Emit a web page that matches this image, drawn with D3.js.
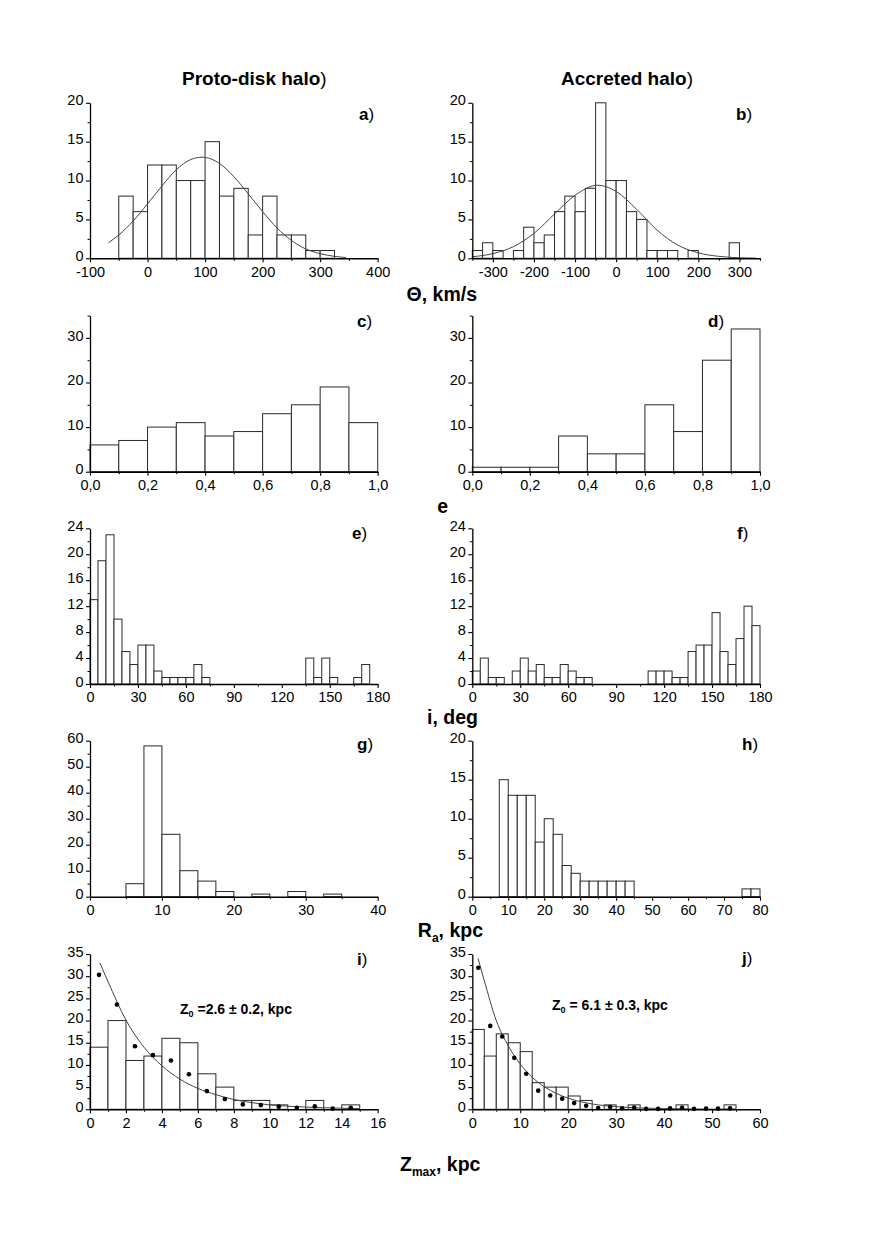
<!DOCTYPE html>
<html><head><meta charset="utf-8">
<script src="https://cdn.jsdelivr.net/npm/d3@7"></script>
<style>
body{margin:0;background:#fff}
svg{display:block}
text{font-family:"Liberation Sans",Arial,Helvetica,sans-serif;fill:#000}
</style>
</head><body>
<svg id="chart" width="872" height="1234"></svg>
<script>
// ---------------- DATA ----------------
// Theta (km/s), bins of 25
const protoThetaStart = -50;
const protoThetaCounts = [8,6,12,12,10,10,15,8,9,3,8,3,3,1,1];
const accThetaStart = -350;
const accThetaCounts = [1,2,1,0,1,4,2,3,6,8,6,9,20,10,10,6,5,1,1,1,0,1,0,0,0,2];
const thetaBinWidth = 25;
const protoThetaFit = [[-68,2.0],[-50,3.0],[-25,4.8],[0,7.0],[25,9.3],[50,11.4],[75,12.7],[95,13.0],[125,12.2],[150,10.5],[175,8.3],[200,6.0],[225,3.9],[250,2.3],[275,1.2],[300,0.6],[325,0.25],[345,0.1]];
const accThetaFit = [[-350,0.2],[-300,0.6],[-250,1.5],[-200,3.2],[-150,5.7],[-100,8.1],[-45,9.4],[0,8.6],[50,6.3],[100,3.6],[150,1.7],[200,0.7],[250,0.25],[300,0.07],[340,0.02]];

// eccentricity, bins of 0.1
const protoECounts = [6,7,10,11,8,9,13,15,19,11];
const accECounts = [1,1,1,8,4,4,15,9,25,32];
const eBinWidth = 0.1;

// inclination (deg), bins of 5
const protoICounts = [13,19,23,10,5,3,6,6,2,1,1,1,1,3,1,0,0,0,0,0,0,0,0,0,0,0,0,4,1,4,1,0,0,1,3,0];
const accICounts = [2,4,1,1,0,2,4,2,3,1,1,3,2,1,1,0,0,0,0,0,0,0,2,2,2,1,1,5,6,6,11,5,3,7,12,9];
const iBinWidth = 5;

// apocentre Ra (kpc), bins of 2.5
const protoRaCounts = [0,0,5,58,24,10,6,2,0,1,0,2,0,1];
const accRaCounts = [0,0,0,15,13,13,13,7,10,8,4,3,2,2,2,2,2,2,0,0,0,0,0,0,0,0,0,0,0,0,1,1];
const raBinWidth = 2.5;

// Zmax (kpc)
const protoZCounts = [14,20,11,12,16,15,8,5,2,2,1,0,2,0,1];
const protoZBinWidth = 1;
const accZCounts = [18,12,17,15,13,6,5,5,3,2,0,1,0,1,0,0,0,1,0,0,0,1];
const accZBinWidth = 2.5;
const protoZDots = [[0.5,30.3],[1.5,23.6],[2.5,14.2],[3.5,12.2],[4.5,11.0],[5.5,7.9],[6.5,4.1],[7.5,2.3],[8.5,1.1],[9.5,0.95],[10.5,0.6],[11.5,0.35],[12.5,0.65],[13.5,0.15],[14.5,0.35]];
const accZDots = [[1.25,31.9],[3.75,18.8],[6.25,16.4],[8.75,11.6],[11.25,8.0],[13.75,4.2],[16.25,3.1],[18.75,2.4],[21.25,1.4],[23.75,0.8],[26.25,0.3],[28.75,0.5],[31.25,0.25],[33.75,0.4],[36.25,0.1],[38.75,0.1],[41.25,0.2],[43.75,0.35],[46.25,0.1],[48.75,0.15],[51.25,0.15],[53.75,0.2]];
const protoZFit = [[0.55,33],[1,28.8],[2,20.1],[3,14],[4,9.8],[5,6.8],[6,4.7],[7,3.3],[8,2.2],[9,1.5],[10,1.0],[11,0.7],[12,0.5],[13,0.35],[14,0.25],[15,0.15]];
const accZFit = [[1.2,34],[2.5,29],[5,20],[7.5,14.3],[10,10.2],[12.5,7.2],[15,5.1],[17.5,3.6],[20,2.5],[25,1.2],[30,0.6],[35,0.3],[40,0.15],[45,0.08],[50,0.04],[55,0.02]];

// tick labels
const thetaTicksA = [-100,0,100,200,300,400];
const thetaTicksB = [-300,-200,-100,0,100,200,300];
const eTicks = [0,0.2,0.4,0.6,0.8,1.0];
const iTicks = [0,30,60,90,120,150,180];
const raTicksG = [0,10,20,30,40];
const raTicksH = [0,10,20,30,40,50,60,70,80];
const zTicksI = [0,2,4,6,8,10,12,14,16];
const zTicksJ = [0,10,20,30,40,50,60];

// ---------------- LAYOUT ----------------
const cols = [[90,377.7],[472.3,760]];
const rows = [[258.3,102.8],[471.7,315.6],[684,528.3],[896.7,740.7],[1109.3,954]];

const svg = d3.select('#chart');
const commaFmt = d => d3.format('.1f')(d).replace('.', ',');
const plainFmt = d => String(d);

const panels = [
  {lab:'a', col:0,row:0, counts:protoThetaCounts, start:protoThetaStart, w:thetaBinWidth, xd:[-100,400], yd:[0,20], xt:thetaTicksA, xm:50, yt:[0,5,10,15,20], ym:2.5, fit:protoThetaFit, lx:359, ly:120},
  {lab:'b', col:1,row:0, counts:accThetaCounts, start:accThetaStart, w:thetaBinWidth, xd:[-350,350], yd:[0,20], xt:thetaTicksB, xm:50, yt:[0,5,10,15,20], ym:2.5, fit:accThetaFit, lx:736, ly:120},
  {lab:'c', col:0,row:1, counts:protoECounts, start:0, w:eBinWidth, xd:[0,1], yd:[0,35], xt:eTicks, xm:0.1, yt:[0,10,20,30], ym:5, fmt:commaFmt, lx:357, ly:327},
  {lab:'d', col:1,row:1, counts:accECounts, start:0, w:eBinWidth, xd:[0,1], yd:[0,35], xt:eTicks, xm:0.1, yt:[0,10,20,30], ym:5, fmt:commaFmt, lx:708, ly:327},
  {lab:'e', col:0,row:2, counts:protoICounts, start:0, w:iBinWidth, xd:[0,180], yd:[0,24], xt:iTicks, xm:15, yt:[0,4,8,12,16,20,24], ym:2, lx:352, ly:539},
  {lab:'f', col:1,row:2, counts:accICounts, start:0, w:iBinWidth, xd:[0,180], yd:[0,24], xt:iTicks, xm:15, yt:[0,4,8,12,16,20,24], ym:2, lx:737, ly:539},
  {lab:'g', col:0,row:3, counts:protoRaCounts, start:0, w:raBinWidth, xd:[0,40], yd:[0,60], xt:raTicksG, xm:5, yt:[0,10,20,30,40,50,60], ym:5, lx:357, ly:750},
  {lab:'h', col:1,row:3, counts:accRaCounts, start:0, w:raBinWidth, xd:[0,80], yd:[0,20], xt:raTicksH, xm:5, yt:[0,5,10,15,20], ym:2.5, lx:742, ly:750},
  {lab:'i', col:0,row:4, counts:protoZCounts, start:0, w:protoZBinWidth, xd:[0,16], yd:[0,35], xt:zTicksI, xm:1, yt:[0,5,10,15,20,25,30,35], ym:2.5, fit:protoZFit, dots:protoZDots, lx:357, ly:965,
     note:{x:180,y:1014, val:'2.6 ± 0.2', eq:' ='}},
  {lab:'j', col:1,row:4, counts:accZCounts, start:0, w:accZBinWidth, xd:[0,60], yd:[0,35], xt:zTicksJ, xm:5, yt:[0,5,10,15,20,25,30,35], ym:2.5, fit:accZFit, dots:accZDots, lx:742, ly:964,
     note:{x:552,y:1010, val:' 6.1 ± 0.3', eq:' ='}}
];

panels.forEach(p => {
  const [x0,x1] = cols[p.col];
  const [y0,y1] = rows[p.row];
  const x = d3.scaleLinear().domain(p.xd).range([x0,x1]);
  const y = d3.scaleLinear().domain(p.yd).range([y0,y1]);
  const g = svg.append('g');

  // bars
  const bins = p.counts.map((c,k)=>({x0:p.start+k*p.w, x1:p.start+(k+1)*p.w, c})).filter(b=>b.c>0);
  g.selectAll('rect.bar').data(bins).enter().append('rect')
    .attr('x', b=>x(b.x0)).attr('width', b=>x(b.x1)-x(b.x0))
    .attr('y', b=>y(b.c)).attr('height', b=>y(0)-y(b.c))
    .attr('fill','#fff').attr('stroke','#2a2a2a').attr('stroke-width',1);

  // fit curve
  if (p.fit) {
    const line = d3.line().x(d=>x(d[0])).y(d=>y(d[1])).curve(d3.curveMonotoneX);
    g.append('path').attr('d', line(p.fit)).attr('fill','none').attr('stroke','#444').attr('stroke-width',1);
  }
  if (p.dots) {
    g.selectAll('circle').data(p.dots).enter().append('circle')
      .attr('cx', d=>x(d[0])).attr('cy', d=>y(d[1])).attr('r',2.3).attr('fill','#000');
  }

  // minor ticks
  const eps = 1e-9;
  const xMinor = d3.range(p.xd[0], p.xd[1]+eps, p.xm).filter(v => !p.xt.some(t=>Math.abs(t-v)<1e-6));
  const yMinor = d3.range(p.yd[0], p.yd[1]+eps, p.ym).filter(v => !p.yt.some(t=>Math.abs(t-v)<1e-6));
  g.append('g').attr('transform',`translate(0,${y0})`)
    .call(d3.axisBottom(x).tickValues(xMinor).tickSize(2.5).tickSizeOuter(0).tickFormat(''))
    .call(s=>{s.select('.domain').remove(); s.selectAll('line').attr('stroke','#000');});
  g.append('g').attr('transform',`translate(${x0},0)`)
    .call(d3.axisLeft(y).tickValues(yMinor).tickSize(2.5).tickSizeOuter(0).tickFormat(''))
    .call(s=>{s.select('.domain').remove(); s.selectAll('line').attr('stroke','#000');});

  // major axes
  const xa = d3.axisBottom(x).tickValues(p.xt).tickSize(4).tickSizeOuter(0).tickPadding(4)
    .tickFormat(p.fmt || plainFmt);
  g.append('g').attr('transform',`translate(0,${y0})`).call(xa)
    .call(s=>{
      s.select('.domain').attr('stroke','#000').attr('stroke-width',1.6);
      s.selectAll('line').attr('stroke','#000').attr('stroke-width',1.1);
      s.selectAll('text').attr('font-size','14.5px').style('font-family','"Liberation Sans",Arial,sans-serif').attr('fill','#000');
    });
  const ya = d3.axisLeft(y).tickValues(p.yt).tickSize(4).tickSizeOuter(0).tickPadding(2.5).tickFormat(plainFmt);
  g.append('g').attr('transform',`translate(${x0},0)`).call(ya)
    .call(s=>{
      s.select('.domain').attr('stroke','#000').attr('stroke-width',1.3);
      s.selectAll('line').attr('stroke','#000').attr('stroke-width',1.1);
      s.selectAll('text').attr('font-size','14.5px').attr('dy','0.15em').style('font-family','"Liberation Sans",Arial,sans-serif').attr('fill','#000');
    });

  // panel label
  const t = svg.append('text').attr('x',p.lx).attr('y',p.ly).attr('font-size','17px');
  t.append('tspan').attr('font-weight','bold').text(p.lab);
  t.append('tspan').text(')');

  // fit note
  if (p.note) {
    const n = svg.append('text').attr('x',p.note.x).attr('y',p.note.y).attr('font-size','14px').attr('font-weight','bold');
    n.append('tspan').text('Z');
    n.append('tspan').attr('font-size','9px').attr('dy','3').text('0');
    n.append('tspan').attr('dy','-3').text(p.note.eq + p.note.val + ', kpc');
  }
});

// column titles
function title(xp, yp, txt){
  const t = svg.append('text').attr('x',xp).attr('y',yp).attr('font-size','19px');
  t.append('tspan').attr('font-weight','bold').text(txt);
  t.append('tspan').text(')');
}
title(182, 85, 'Proto-disk halo');
title(561, 85, 'Accreted halo');

// axis titles
function axTitle(xp, yp, main, sub, rest, anchor){
  const t = svg.append('text').attr('x',xp).attr('y',yp).attr('font-size','19.5px').attr('font-weight','bold').attr('text-anchor',anchor||'end');
  t.append('tspan').text(main);
  if (sub) {
    t.append('tspan').attr('font-size','12px').attr('dy','5').text(sub);
    t.append('tspan').attr('dy','-5').text(rest);
  }
}
axTitle(477, 301, 'Θ, km/s');
axTitle(448, 513, 'e');
axTitle(478, 723.5, 'i, deg');
axTitle(483, 936.5, 'R', 'a', ', kpc');
axTitle(400, 1170.7, 'Z', 'max', ', kpc', 'start');
</script>
</body></html>
